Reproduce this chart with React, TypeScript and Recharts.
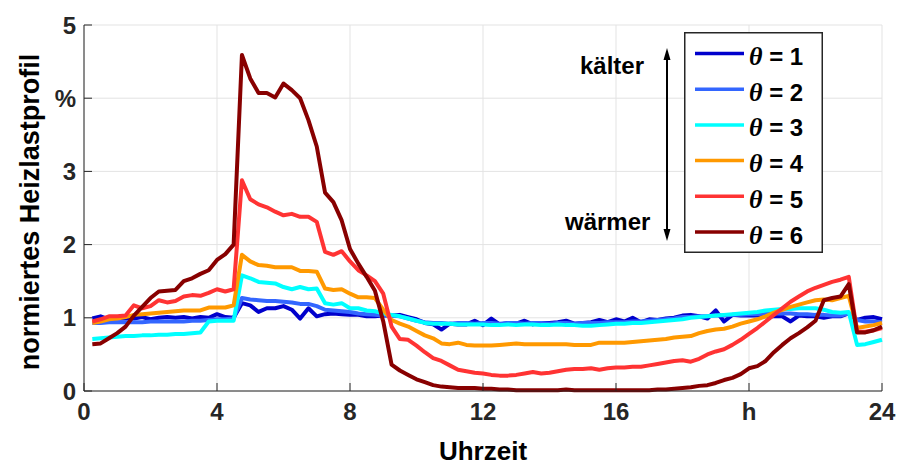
import React from "react";
import { LineChart, Line, XAxis, YAxis, CartesianGrid, Legend } from "recharts";

// Quarter-hour time stamps of the daily profile (h)
const hours = [
  0.25, 0.5, 0.75, 1, 1.25, 1.5, 1.75, 2,
  2.25, 2.5, 2.75, 3, 3.25, 3.5, 3.75, 4,
  4.25, 4.5, 4.75, 5, 5.25, 5.5, 5.75, 6,
  6.25, 6.5, 6.75, 7, 7.25, 7.5, 7.75, 8,
  8.25, 8.5, 8.75, 9, 9.25, 9.5, 9.75, 10,
  10.25, 10.5, 10.75, 11, 11.25, 11.5, 11.75, 12,
  12.25, 12.5, 12.75, 13, 13.25, 13.5, 13.75, 14,
  14.25, 14.5, 14.75, 15, 15.25, 15.5, 15.75, 16,
  16.25, 16.5, 16.75, 17, 17.25, 17.5, 17.75, 18,
  18.25, 18.5, 18.75, 19, 19.25, 19.5, 19.75, 20,
  20.25, 20.5, 20.75, 21, 21.25, 21.5, 21.75, 22,
  22.25, 22.5, 22.75, 23, 23.25, 23.5, 23.75, 24,
];

// Normalised heat load (%) per temperature class θ
const theta1 = [
  0.99, 1.02, 0.98, 0.99, 0.99, 0.99, 1.01, 0.98,
  1.0, 1.01, 1.0, 1.01, 0.99, 1.01, 1.0, 1.05,
  1.01, 1.0, 1.2, 1.17, 1.08, 1.13, 1.13, 1.16,
  1.11, 0.99, 1.13, 1.02, 1.05, 1.06, 1.05, 1.04,
  1.04, 1.02, 1.02, 1.03, 1.03, 1.04, 1.01, 0.98,
  0.93, 0.91, 0.84, 0.92, 0.91, 0.91, 0.96, 0.9,
  0.99, 0.91, 0.93, 0.92, 0.96, 0.91, 0.93, 0.93,
  0.94, 0.96, 0.92, 0.93, 0.94, 0.97, 0.94, 0.98,
  0.95, 1.0, 0.94, 0.98, 0.97, 0.99, 1.0, 1.03,
  1.04, 1.02, 0.99, 1.1, 0.95, 1.04, 1.03, 1.03,
  1.03, 1.02, 1.02, 1.02, 0.95, 1.03, 1.02, 1.02,
  1.0, 1.02, 1.02, 1.06, 0.97, 1.0, 1.01, 0.98,
];

const theta2 = [
  0.93, 0.93, 0.94, 0.94, 0.94, 0.94, 0.94, 0.95,
  0.95, 0.95, 0.95, 0.95, 0.96, 0.96, 0.97, 0.98,
  0.98, 0.99, 1.27, 1.25, 1.24, 1.23, 1.23, 1.22,
  1.21, 1.19, 1.19, 1.16, 1.11, 1.1, 1.09, 1.08,
  1.06, 1.05, 1.04, 1.03, 1.03, 1.02, 0.99, 0.96,
  0.94, 0.93, 0.93, 0.92, 0.93, 0.93, 0.92, 0.93,
  0.93, 0.92, 0.93, 0.93, 0.92, 0.93, 0.93, 0.92,
  0.93, 0.93, 0.92, 0.93, 0.93, 0.93, 0.94, 0.94,
  0.94, 0.95, 0.95, 0.96, 0.97, 0.98, 0.99, 1.01,
  1.01, 1.02, 1.02, 1.03, 1.03, 1.04, 1.04, 1.05,
  1.05, 1.06, 1.06, 1.06, 1.06, 1.05, 1.05, 1.04,
  1.04, 1.03, 1.03, 1.06, 0.97, 0.95, 0.95, 0.94,
];

const theta3 = [
  0.71, 0.72, 0.73, 0.74, 0.75, 0.75, 0.76, 0.76,
  0.77, 0.77, 0.78, 0.78, 0.79, 0.8, 0.95, 0.96,
  0.96, 0.96, 1.58, 1.54, 1.49, 1.48, 1.47, 1.42,
  1.39, 1.42, 1.39, 1.4, 1.2, 1.18, 1.2, 1.13,
  1.13, 1.1, 1.09, 1.06, 1.04, 1.02, 0.99, 0.96,
  0.93, 0.92, 0.92, 0.92, 0.91, 0.91, 0.91, 0.91,
  0.9, 0.9, 0.91, 0.9, 0.91, 0.91, 0.9, 0.9,
  0.91, 0.9, 0.9, 0.89, 0.89, 0.9, 0.91, 0.92,
  0.92, 0.93, 0.93, 0.94, 0.95, 0.96, 0.97, 0.98,
  1.0, 1.01, 1.02, 1.03, 1.04, 1.05, 1.06, 1.07,
  1.08, 1.1, 1.11, 1.12, 1.12, 1.13, 1.13, 1.13,
  1.11, 1.08, 1.07, 1.08, 0.63, 0.64, 0.67, 0.7,
];

const theta4 = [
  0.93, 0.95, 0.98, 0.99, 1.01, 1.04, 1.05, 1.06,
  1.07, 1.08, 1.09, 1.1, 1.1, 1.1, 1.14, 1.14,
  1.14, 1.17, 1.86, 1.77, 1.72, 1.71, 1.69, 1.69,
  1.69, 1.64, 1.64, 1.63, 1.4, 1.38, 1.39, 1.33,
  1.28, 1.28, 1.27, 1.11, 0.97, 0.92, 0.88, 0.82,
  0.76, 0.72, 0.65, 0.64, 0.66, 0.63, 0.62, 0.62,
  0.62, 0.63, 0.64, 0.65, 0.64, 0.64, 0.64, 0.64,
  0.64, 0.64, 0.63, 0.63, 0.63, 0.66, 0.66, 0.66,
  0.66, 0.67, 0.68, 0.69, 0.7, 0.71, 0.73, 0.74,
  0.75, 0.79, 0.82, 0.84, 0.85, 0.88, 0.92, 0.95,
  0.98, 1.02, 1.07, 1.11, 1.15, 1.18, 1.21, 1.24,
  1.25, 1.24, 1.27, 1.3, 0.86, 0.88, 0.9, 0.93,
];

const theta5 = [
  0.95, 0.98, 1.02, 1.02, 1.03, 1.17, 1.13, 1.16,
  1.24, 1.21, 1.23, 1.29, 1.31, 1.3, 1.34, 1.39,
  1.36, 1.39, 2.88, 2.62, 2.55, 2.51, 2.45, 2.4,
  2.42, 2.38, 2.38, 2.31, 1.9, 1.86, 1.91, 1.77,
  1.65, 1.58, 1.5, 1.33, 0.88, 0.71, 0.7, 0.62,
  0.53, 0.45, 0.41, 0.35, 0.29, 0.27, 0.25, 0.24,
  0.22, 0.21, 0.21, 0.22, 0.24, 0.26, 0.24, 0.25,
  0.27, 0.29, 0.3, 0.3, 0.31, 0.29, 0.31, 0.32,
  0.32, 0.33, 0.33, 0.35, 0.37, 0.39, 0.41, 0.42,
  0.4, 0.44, 0.5, 0.54, 0.57, 0.63, 0.7, 0.78,
  0.86, 0.95, 1.04, 1.13, 1.22, 1.29, 1.36, 1.41,
  1.45, 1.49, 1.52, 1.56, 0.81, 0.81, 0.83, 0.86,
];

const theta6 = [
  0.64, 0.65, 0.72, 0.79, 0.88, 1.03, 1.15, 1.27,
  1.36, 1.37, 1.38, 1.5, 1.54, 1.6, 1.65, 1.79,
  1.87, 2.0, 4.59, 4.27, 4.07, 4.07, 4.01, 4.2,
  4.11, 4.0, 3.7, 3.34, 2.71, 2.58, 2.33, 1.94,
  1.74, 1.56, 1.37, 0.95, 0.36, 0.28, 0.22, 0.16,
  0.12, 0.08, 0.06, 0.05, 0.04, 0.04, 0.04, 0.03,
  0.03, 0.02, 0.02, 0.01, 0.01, 0.01, 0.01, 0.01,
  0.01, 0.02, 0.01, 0.01, 0.01, 0.01, 0.01, 0.01,
  0.01, 0.01, 0.01, 0.01, 0.02, 0.02, 0.03, 0.04,
  0.05, 0.07, 0.08, 0.11, 0.15, 0.18, 0.23, 0.31,
  0.34, 0.41, 0.53, 0.63, 0.72, 0.79, 0.87, 0.96,
  1.24, 1.27, 1.29, 1.46, 0.8, 0.8, 0.83, 0.88,
];

// Axis ticks and their printed labels
const xTicks = [0, 4, 8, 12, 16, 20, 24];
const xTickLabels = ["0", "4", "8", "12", "16", "h", "24"];
const yTicks = [0, 1, 2, 3, 4, 5];
const yTickLabels = ["0", "1", "2", "3", "%", "5"];

const seriesNames = ["1", "2", "3", "4", "5", "6"];
const seriesColors = ["#0000cc", "#3366ff", "#00ffff", "#ff9900", "#ff3333", "#880000"];
const seriesValues = [theta1, theta2, theta3, theta4, theta5, theta6];

const data = hours.map((h, i) => {
  const row: Record<string, number> = { h };
  seriesValues.forEach((vals, k) => {
    row[`t${k + 1}`] = vals[i];
  });
  return row;
});

const W = 897;
const H = 465;
const FONT = "'Liberation Sans', Arial, Helvetica, sans-serif";
const INK = "#262626";
const TICK = 8;

const labelOf = (ticks: number[], labels: string[], v: number) => {
  const i = ticks.indexOf(v);
  return i >= 0 ? labels[i] : String(v);
};

function BottomTick(props: any) {
  const { x, y, payload } = props;
  return (
    <g>
      <line x1={x} x2={x} y1={y} y2={y - TICK} stroke={INK} strokeWidth={1} />
      <text x={x} y={y + 29} textAnchor="middle" fontFamily={FONT} fontWeight="bold" fontSize={24} fill={INK}>
        {labelOf(xTicks, xTickLabels, payload.value)}
      </text>
    </g>
  );
}

function TopTick(props: any) {
  const { x, y } = props;
  return <line x1={x} x2={x} y1={y} y2={y + TICK} stroke={INK} strokeWidth={1} />;
}

function LeftTick(props: any) {
  const { x, y, payload } = props;
  return (
    <g>
      <line x1={x} x2={x + TICK} y1={y} y2={y} stroke={INK} strokeWidth={1} />
      <text x={x - 8} y={y + 8.5} textAnchor="end" fontFamily={FONT} fontWeight="bold" fontSize={24} fill={INK}>
        {labelOf(yTicks, yTickLabels, payload.value)}
      </text>
    </g>
  );
}

function RightTick(props: any) {
  const { x, y } = props;
  return <line x1={x} x2={x - TICK} y1={y} y2={y} stroke={INK} strokeWidth={1} />;
}

function LegendBox() {
  const bw = 139;
  const bh = 221;
  return (
    <svg width={bw} height={bh} style={{ display: "block" }}>
      <rect x={0.75} y={0.75} width={bw - 1.5} height={bh - 1.5} fill="#ffffff" stroke={INK} strokeWidth={1.5} />
      {seriesNames.map((name, i) => {
        const cy = 21.5 + i * 35.7;
        return (
          <g key={name}>
            <line x1={11} x2={60} y1={cy} y2={cy} stroke={seriesColors[i]} strokeWidth={3.5} />
            <text x={65} y={cy + 11.5} fontFamily={FONT} fontWeight="bold" fontSize={24} fill="#000000">
              <tspan fontFamily="'Liberation Serif', 'Times New Roman', serif" fontStyle="italic" fontSize={26}>
                θ
              </tspan>
              <tspan> = {name}</tspan>
            </text>
          </g>
        );
      })}
    </svg>
  );
}

export default function App() {
  return (
    <>
      <style>{"html, body { margin: 0; padding: 0; background: #ffffff; }"}</style>
      <div style={{ position: "relative", width: W, height: H, background: "#ffffff" }}>
        <LineChart width={W} height={H} data={data} margin={{ top: 25, right: 15, bottom: 0, left: 0 }}>
          <CartesianGrid stroke="#e3e3e3" strokeWidth={1} />
          <XAxis
            dataKey="h"
            type="number"
            domain={[0, 24]}
            ticks={xTicks}
            interval={0}
            height={74}
            tickSize={0}
            tickMargin={0}
            tickLine={false}
            axisLine={{ stroke: INK, strokeWidth: 1 }}
            tick={<BottomTick />}
          />
          <XAxis
            xAxisId="top"
            orientation="top"
            dataKey="h"
            type="number"
            domain={[0, 24]}
            ticks={xTicks}
            interval={0}
            height={0}
            tickSize={0}
            tickMargin={0}
            tickLine={false}
            axisLine={{ stroke: INK, strokeWidth: 1 }}
            tick={<TopTick />}
          />
          <YAxis
            type="number"
            domain={[0, 5]}
            ticks={yTicks}
            interval={0}
            width={84}
            tickSize={0}
            tickMargin={0}
            tickLine={false}
            axisLine={{ stroke: INK, strokeWidth: 1 }}
            tick={<LeftTick />}
          />
          <YAxis
            yAxisId="right"
            orientation="right"
            type="number"
            domain={[0, 5]}
            ticks={yTicks}
            interval={0}
            width={0}
            tickSize={0}
            tickMargin={0}
            tickLine={false}
            axisLine={{ stroke: INK, strokeWidth: 1 }}
            tick={<RightTick />}
          />
          {seriesNames.map((name, i) => (
            <Line
              key={name}
              type="linear"
              dataKey={`t${i + 1}`}
              name={`θ = ${name}`}
              stroke={seriesColors[i]}
              strokeWidth={4}
              strokeLinejoin="round"
              dot={false}
              activeDot={false}
              isAnimationActive={false}
            />
          ))}
          <Legend
            layout="vertical"
            align="center"
            verticalAlign="middle"
            wrapperStyle={{ position: "absolute", left: 684, top: 32, width: 139, height: 221 }}
            content={() => <LegendBox />}
          />
        </LineChart>
        <svg
          width={W}
          height={H}
          style={{ position: "absolute", left: 0, top: 0, pointerEvents: "none" }}
        >
          <text
            transform="translate(39,212) rotate(-90)"
            textAnchor="middle"
            fontFamily={FONT}
            fontWeight="bold"
            fontSize={27}
            fill="#000000"
          >
            normiertes Heizlastprofil
          </text>
          <text x={483} y={460} textAnchor="middle" fontFamily={FONT} fontWeight="bold" fontSize={26} fill="#000000">
            Uhrzeit
          </text>
          <text x={580} y={74} fontFamily={FONT} fontWeight="bold" fontSize={24} fill="#000000">
            kälter
          </text>
          <text x={565} y={230} fontFamily={FONT} fontWeight="bold" fontSize={24} fill="#000000">
            wärmer
          </text>
          <line x1={667} x2={667} y1={58} y2={231} stroke="#000000" strokeWidth={2} />
          <polygon points="667,48 663.5,60 670.5,60" fill="#000000" />
          <polygon points="667,241 663.5,229 670.5,229" fill="#000000" />
        </svg>
      </div>
    </>
  );
}
